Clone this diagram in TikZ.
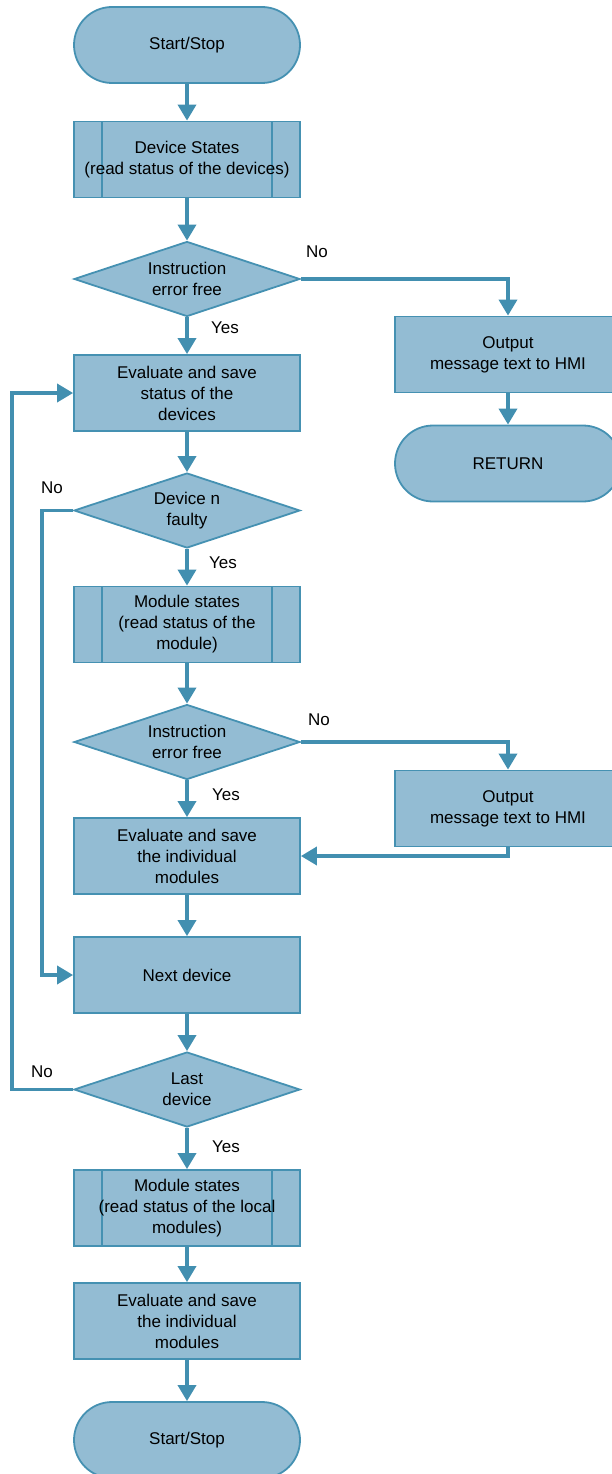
\documentclass[tikz,border=0pt]{standalone}
\usepackage{fontspec}
\setmainfont{Liberation Sans}
\usetikzlibrary{shapes.geometric,shapes.misc,arrows.meta}
\definecolor{boxfill}{RGB}{147,188,211}
\definecolor{boxline}{RGB}{69,145,178}
\definecolor{arrowcol}{RGB}{66,143,176}
\begin{document}
\begin{tikzpicture}[x=1pt,y=-1pt,
  font=\fontsize{17}{21}\selectfont,
  base/.style={draw=boxline, fill=boxfill, line width=1.8pt, align=center,
    inner sep=0pt, minimum width=226pt, minimum height=76pt, text=black},
  procbox/.style={base, rectangle},
  subproc/.style={procbox, path picture={
    \draw[boxline,line width=1.8pt]
      ([xshift=28pt]path picture bounding box.north west) -- ([xshift=28pt]path picture bounding box.south west)
      ([xshift=-28pt]path picture bounding box.north east) -- ([xshift=-28pt]path picture bounding box.south east);}},
  termbox/.style={base, rounded rectangle},
  decbox/.style={base, diamond, aspect=3, minimum width=226pt, minimum height=75pt},
  flow/.style={draw=arrowcol, line width=3.6pt, -{Triangle[width=18pt,length=16pt]}},
  lbl/.style={inner sep=0pt, text=black}
]
\clip (0,0) rectangle (612,1474);
% main column
\node[termbox] (ss1) at (187,45) {Start/Stop};
\node[subproc] (ds) at (187,159.5) {Device States\\(read status of the devices)};
\node[decbox] (d1) at (187,279) {Instruction\\error free};
\node[procbox] (ev1) at (187,393) {Evaluate and save\\status of the\\devices};
\node[decbox] (d2) at (187,510.5) {Device n\\faulty};
\node[subproc] (ms1) at (187,624.5) {Module states\\(read status of the\\module)};
\node[decbox] (d3) at (187,742) {Instruction\\error free};
\node[procbox] (ev2) at (187,856) {Evaluate and save\\the individual\\modules};
\node[procbox] (nd) at (187,975) {Next device};
\node[decbox] (d4) at (187,1089.5) {Last\\device};
\node[subproc] (ms2) at (187,1208) {Module states\\(read status of the local\\modules)};
\node[procbox] (ev3) at (187,1321) {Evaluate and save\\the individual\\modules};
\node[termbox] (ss2) at (187,1440) {Start/Stop};
% right column
\node[procbox] (o1) at (508,354.5) {Output\\message text to HMI};
\node[termbox] (ret) at (508,463.5) {RETURN};
\node[procbox] (o2) at (508,808.5) {Output\\message text to HMI};
% loop coordinates
\coordinate (lo) at (12,1089.5);
\coordinate (li) at (42,510.5);
% connectors
\draw[flow] (ss1) -- (ds);
\draw[flow] (ds) -- (d1);
\draw[flow] (d1) -- (ev1);
\draw[flow] (d1.east) -| (o1.north);
\draw[flow] (o1) -- (ret);
\draw[flow] (ev1) -- (d2);
\draw[flow] (d2) -- (ms1);
\draw[flow] (d2.west) -- (li) |- (nd.west);
\draw[flow] (ms1) -- (d3);
\draw[flow] (d3) -- (ev2);
\draw[flow] (d3.east) -| (o2.north);
\draw[flow] (o2.south) |- (ev2.east);
\draw[flow] (ev2) -- (nd);
\draw[flow] (nd) -- (d4);
\draw[flow] (d4.west) -- (lo) |- (ev1.west);
\draw[flow] (d4) -- (ms2);
\draw[flow] (ms2) -- (ev3);
\draw[flow] (ev3) -- (ss2);
% labels
\node[lbl] (n1) at (317,252) {No};
\node[lbl] (y1) at (225,328) {Yes};
\node[lbl] (n2) at (52,488) {No};
\node[lbl] (y2) at (223,563) {Yes};
\node[lbl] (n3) at (319,720) {No};
\node[lbl] (y3) at (226,795) {Yes};
\node[lbl] (n4) at (42,1072) {No};
\node[lbl] (y4) at (226,1147) {Yes};
\end{tikzpicture}
\end{document}
